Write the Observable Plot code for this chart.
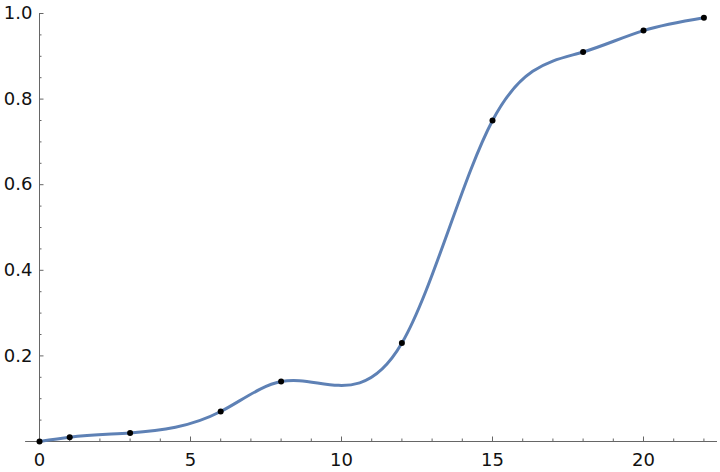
<!DOCTYPE html>
<html>
<head>
<meta charset="utf-8">
<script src="https://cdn.jsdelivr.net/npm/d3@7"></script>
<script src="https://cdn.jsdelivr.net/npm/@observablehq/plot@0.6"></script>
<style>
  html, body { margin: 0; padding: 0; background: #fff; }
</style>
</head>
<body>
<div id="chart"></div>
<script>
const xs = [0, 1, 3, 6, 8, 12, 15, 18, 20, 22];
const ys = [0, 0.01, 0.02, 0.07, 0.14, 0.23, 0.75, 0.91, 0.96, 0.99];
const xMajor = [0, 5, 10, 15, 20];
const xMinor = [1, 2, 3, 4, 6, 7, 8, 9, 11, 12, 13, 14, 16, 17, 18, 19, 21, 22];
const yMajor = [0.2, 0.4, 0.6, 0.8, 1.0];
const yMinor = [0.05, 0.1, 0.15, 0.25, 0.3, 0.35, 0.45, 0.5, 0.55, 0.65, 0.7, 0.75, 0.85, 0.9, 0.95];

const data = xs.map((x, i) => ({x, y: ys[i]}));

// Natural cubic spline y(x) as a curve factory (works in screen space; scales are linear).
function splineCurve(context) {
  let pts = [];
  return {
    areaStart() {}, areaEnd() {},
    lineStart() { pts = []; },
    point(x, y) { pts.push([+x, +y]); },
    lineEnd() {
      const n = pts.length;
      if (!n) return;
      const X = pts.map(p => p[0]), Y = pts.map(p => p[1]);
      context.moveTo(X[0], Y[0]);
      if (n < 3) { for (let i = 1; i < n; i++) context.lineTo(X[i], Y[i]); return; }
      // solve tridiagonal system for second derivatives (natural end conditions)
      const M = new Array(n).fill(0);
      const a = [], b = [], c = [], d = [];
      for (let i = 1; i < n - 1; i++) {
        const h0 = X[i] - X[i - 1], h1 = X[i + 1] - X[i];
        a.push(h0); b.push(2 * (h0 + h1)); c.push(h1);
        d.push(6 * ((Y[i + 1] - Y[i]) / h1 - (Y[i] - Y[i - 1]) / h0));
      }
      const m = b.length;
      for (let i = 1; i < m; i++) { const w = a[i] / b[i - 1]; b[i] -= w * c[i - 1]; d[i] -= w * d[i - 1]; }
      const sol = new Array(m);
      sol[m - 1] = d[m - 1] / b[m - 1];
      for (let i = m - 2; i >= 0; i--) sol[i] = (d[i] - c[i] * sol[i + 1]) / b[i];
      for (let i = 0; i < m; i++) M[i + 1] = sol[i];
      for (let i = 0; i < n - 1; i++) {
        const h = X[i + 1] - X[i], s = (Y[i + 1] - Y[i]) / h;
        const d0 = s - h * (2 * M[i] + M[i + 1]) / 6;
        const d1 = s + h * (M[i] + 2 * M[i + 1]) / 6;
        context.bezierCurveTo(X[i] + h / 3, Y[i] + h / 3 * d0, X[i + 1] - h / 3, Y[i + 1] - h / 3 * d1, X[i + 1], Y[i + 1]);
      }
    }
  };
}

const W = 720, H = 472;
const mL = 39, mR = 3, mT = 13, mB = 31;
const fw = W - mL - mR, fh = H - mT - mB;
const axisColor = "#666";

const chart = Plot.plot({
  width: W,
  height: H,
  marginLeft: mL,
  marginRight: mR,
  marginTop: mT,
  marginBottom: mB,
  x: {domain: [0, 22.45]},
  y: {domain: [0, 1]},
  style: {fontFamily: "DejaVu Sans", fontSize: "18px", color: "#111", background: "#fff"},
  marks: [
    // axis lines
    Plot.ruleY([0], {x1: -0.46, x2: 22.45, stroke: axisColor, strokeWidth: 1}),
    Plot.ruleX([0], {y1: 0, y2: 1, stroke: axisColor, strokeWidth: 1}),
    // x ticks (pointing up into plot)
    Plot.tickX(xMajor, {x: d => d, insetTop: fh - 4.5, stroke: axisColor}),
    Plot.tickX(xMinor, {x: d => d, insetTop: fh - 2.5, stroke: axisColor}),
    // y ticks (pointing right into plot)
    Plot.tickY(yMajor, {y: d => d, insetRight: fw - 4.5, stroke: axisColor}),
    Plot.tickY(yMinor, {y: d => d, insetRight: fw - 2.5, stroke: axisColor}),
    // tick labels
    Plot.axisX({ticks: xMajor, tickSize: 0, tickPadding: 12, tickFormat: d => String(d), label: null, fill: "#111"}),
    Plot.axisY({ticks: yMajor, tickSize: 0, tickPadding: 7, tickFormat: d => d.toFixed(1), label: null, fill: "#111"}),
    // curve and points
    Plot.line(data, {x: "x", y: "y", curve: splineCurve, stroke: "rgb(94,129,181)", strokeWidth: 3}),
    Plot.dot(data, {x: "x", y: "y", r: 3, fill: "#000", stroke: "none"})
  ]
});
document.getElementById("chart").appendChild(chart);
</script>
</body>
</html>
